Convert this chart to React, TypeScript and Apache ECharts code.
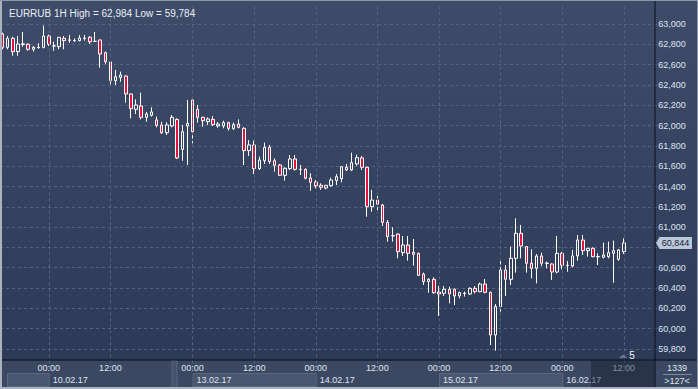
import React, { useEffect, useRef } from 'react';
import * as echarts from 'echarts';

// ---- data ----
const titleText = 'EURRUB 1H High = 62,984 Low = 59,784';

const sessions = [
  { date: '09.02.17', from: 15, to: 23 },
  { date: '10.02.17', from: 0, to: 23 },
  { date: '11.02.17', from: 0, to: 0 },
  { date: '12.02.17', from: 21, to: 23 },
  { date: '13.02.17', from: 0, to: 23 },
  { date: '14.02.17', from: 0, to: 23 },
  { date: '15.02.17', from: 0, to: 23 },
  { date: '16.02.17', from: 0, to: 18 },
];

const timeTickIdx = [9, 21, 37, 49, 61, 73, 85, 97, 109, 121];
const dateTickIdx = [9, 37, 61, 85, 109];

const opens = [62902,62770,62859,62728,62798,62800,62751,62768,62770,62882,
  62785,62777,62859,62840,62838,62836,62858,62869,62828,62843,
  62718,62626,62442,62472,62488,62311,62160,62193,62081,62101,
  62055,62006,61930,61996,62061,61766,61996,62252,62160,62081,
  62038,62061,61996,61996,62029,61970,62015,61973,61753,61809,
  61576,61654,61786,61654,61612,61510,61576,61671,61569,61569,
  61484,61444,61412,61385,61408,61458,61477,61589,61563,61622,
  61681,61589,61202,61267,61218,61047,60913,60932,60749,60824,
  60752,60742,60538,60463,60486,60361,60348,60388,60388,60322,
  60346,60342,60397,60365,60440,60358,59938,60217,60578,60486,
  60693,60939,60808,60644,60594,60716,60646,60637,60558,60742,
  60622,60617,60716,60873,60768,60791,60711,60703,60709,60742,
  60683,60758];

const highs = [62915,62882,62875,62882,62921,62810,62783,62810,62984,62895,
  62826,62872,62882,62892,62859,62892,62892,62882,62921,62846,
  62728,62630,62547,62531,62492,62315,62258,62324,62134,62180,
  62088,62038,62032,62104,62071,62006,62252,62255,62203,62088,
  62081,62094,62035,62048,62038,62029,62061,61983,61858,61851,
  61694,61832,61809,61677,61622,61589,61710,61710,61612,61579,
  61530,61464,61431,61415,61487,61523,61602,61622,61733,61714,
  61700,61595,61366,61307,61228,61070,60998,60939,60913,60913,
  60883,60749,60552,60496,60506,60420,60420,60414,60397,60365,
  60365,60407,60420,60453,60489,60365,60243,60683,60627,60808,
  61087,61021,60814,60781,60735,60749,60660,60644,60913,60758,
  60666,60775,60923,60923,60798,60801,60742,60847,60857,60867,
  60785,60890];

const lows = [62751,62751,62688,62688,62777,62737,62728,62757,62760,62783,
  62737,62751,62751,62816,62823,62829,62836,62803,62823,62570,
  62603,62396,62399,62432,62226,62071,62114,62061,62038,62088,
  61983,61917,61907,61983,61671,61654,61612,61825,62029,61989,
  62006,61996,61979,61973,61950,61956,61973,61612,61700,61523,
  61563,61622,61622,61546,61503,61458,61563,61556,61513,61471,
  61359,61382,61366,61372,61398,61415,61441,61553,61553,61605,
  61563,61103,61152,61169,61011,60857,60857,60693,60716,60670,
  60621,60519,60430,60355,60342,60125,60322,60250,60233,60299,
  60316,60332,60348,60358,60348,59839,59784,60168,60322,60430,
  60552,60693,60552,60496,60447,60617,60594,60480,60545,60584,
  60561,60604,60670,60726,60709,60703,60627,60693,60693,60453,
  60670,60735];

const closes = [62770,62859,62728,62803,62805,62751,62770,62772,62882,62800,
  62783,62869,62836,62843,62836,62862,62861,62826,62830,62705,
  62629,62442,62481,62498,62311,62166,62203,62081,62114,62134,
  62002,61930,62006,62081,61681,61940,62022,61940,62081,62048,
  62065,62009,62015,62029,61973,62009,61983,61753,61809,61576,
  61661,61786,61645,61609,61510,61579,61671,61569,61566,61481,
  61441,61408,61392,61412,61464,61497,61595,61563,61635,61684,
  61589,61202,61267,61225,61047,60906,60916,60758,60824,60742,
  60732,60525,60463,60486,60355,60342,60388,60342,60322,60355,
  60350,60397,60365,60440,60358,59938,60217,60578,60486,60693,
  60939,60814,60644,60594,60716,60644,60642,60558,60742,60624,
  60624,60716,60873,60768,60791,60709,60707,60726,60748,60768,
  60775,60844];

const barCountLabel = '1339';
const visibleBarsLabel = '>127<';
const scaleLabel = '5';

// ---- helpers ----
const categories: string[] = [];
sessions.forEach((s) => {
  for (let h = s.from; h <= s.to; h++) {
    categories.push(s.date + ' ' + (h < 10 ? '0' + h : '' + h) + ':00');
  }
});

const fmt = (v: number) => String(Math.round(v)).replace(/\B(?=(\d{3})+(?!\d))/g, ',');
const lastClose = closes[closes.length - 1];

const FONT = '"Liberation Sans", Arial, sans-serif';
const GRID = '#56637f';
const LABEL = '#dde4ef';

export default function App() {
  const ref = useRef<HTMLDivElement>(null);

  useEffect(() => {
    document.body.style.margin = '0';
    const chart = echarts.init(ref.current as HTMLDivElement, null, { renderer: 'svg' });
    const candles = opens.map((o, i) => [o, closes[i], lows[i], highs[i]]);

    chart.setOption({
      animation: false,
      textStyle: { fontFamily: FONT },
      title: {
        text: titleText,
        left: 4,
        top: 3,
        textStyle: { color: '#e8edf4', fontSize: 10, fontWeight: 'normal', fontFamily: FONT },
      },
      grid: { left: 0, top: 3.7, width: 657.2, height: 365.6 },
      xAxis: [
        {
          type: 'category',
          data: categories,
          boundaryGap: true,
          position: 'bottom',
          offset: -9,
          z: 5,
          axisLine: { show: false },
          axisTick: { show: false },
          splitLine: { show: false },
          axisLabel: {
            interval: (i: number) => timeTickIdx.includes(i),
            formatter: (v: string) => v.split(' ')[1],
            margin: 3,
            color: LABEL,
            fontSize: 9,
            fontFamily: FONT,
          },
        },
        {
          type: 'category',
          data: categories,
          gridIndex: 0,
          boundaryGap: true,
          position: 'bottom',
          offset: -9,
          z: 5,
          axisLine: { show: false },
          axisTick: { show: false },
          splitLine: { show: false },
          axisLabel: {
            interval: (i: number) => dateTickIdx.includes(i),
            formatter: (v: string) => v.split(' ')[0],
            align: 'left',
            padding: [0, 0, 0, 4],
            margin: 15,
            color: LABEL,
            fontSize: 9,
            fontFamily: FONT,
          },
        },
      ],
      yAxis: {
        type: 'value',
        position: 'right',
        min: 59600,
        max: 63200,
        interval: 200,
        z: 0,
        axisLine: { show: false },
        axisTick: { show: false },
        splitLine: {
          show: true,
          showMinLine: false,
          showMaxLine: false,
          lineStyle: { color: GRID, type: [3, 3], width: 1 },
        },
        axisLabel: {
          margin: 1,
          color: LABEL,
          fontSize: 9,
          fontFamily: FONT,
          formatter: (v: number) =>
            v <= 59600 || v >= 63200 || Math.abs(v - lastClose) < 100 ? '' : fmt(v),
        },
      },
      series: [
        {
          type: 'candlestick',
          xAxisIndex: 0,
          yAxisIndex: 0,
          data: candles,
          barWidth: 3,
          z: 2,
          itemStyle: {
            color: 'rgba(0,0,0,0)',
            color0: '#e3123a',
            borderColor: '#ffffff',
            borderColor0: '#ffffff',
            borderWidth: 1,
          },
          markLine: {
            silent: true,
            symbol: ['none', 'none'],
            label: { show: false },
            lineStyle: { color: GRID, type: [3, 3], width: 1 },
            data: timeTickIdx.map((i) => ({ xAxis: categories[i] })),
          },
        },
      ],
    });

    const cx = (i: number) => chart.convertToPixel({ xAxisIndex: 0 }, categories[i]) as number;
    const cy = (v: number) => chart.convertToPixel({ yAxisIndex: 0 }, v) as number;

    const py = cy(lastClose);
    const stripTop = 360.5;
    const stripH = 28.5;
    const rightX = 654.5;

    const boxes: any[] = [];
    const dayBoxes = [[-1, 9], [37, 61], [85, 109]];
    dayBoxes.forEach(([a, b]) => {
      const x0 = a < 0 ? 7 : cx(a);
      const x1 = cx(b);
      boxes.push({
        type: 'rect',
        z: 4,
        silent: true,
        shape: { x: x0 + 0.5, y: 373.5, width: x1 - x0, height: 13 },
        style: { fill: '#4a5670', stroke: '#5b6781', lineWidth: 1 },
      });
    });
    const sepX = (cx(33) + cx(34)) / 2;
    boxes.push({
      type: 'rect',
      z: 4,
      silent: true,
      shape: { x: sepX - 2.5, y: stripTop, width: 5, height: stripH },
      style: { fill: '#46526b', stroke: '#5b6781', lineWidth: 1 },
    });
    const ovX = cx(115) - 2;

    chart.setOption({
      graphic: {
        elements: [
          {
            type: 'rect',
            z: -10,
            silent: true,
            shape: { x: 0, y: 0, width: 698, height: 389 },
            style: {
              fill: new echarts.graphic.LinearGradient(0, 0, 0, 1, [
                { offset: 0, color: '#3f4c69' },
                { offset: 1, color: '#2b3856' },
              ]),
            },
          },
          {
            type: 'rect',
            z: 3,
            silent: true,
            shape: { x: 0, y: stripTop, width: 698, height: stripH },
            style: { fill: '#3c4862' },
          },
          ...boxes,
          {
            type: 'rect',
            z: 6,
            silent: true,
            shape: { x: ovX, y: stripTop, width: rightX - ovX, height: stripH },
            style: { fill: 'rgba(18,26,46,0.45)' },
          },
          {
            type: 'rect',
            z: 7,
            silent: true,
            shape: { x: 0, y: 359.5, width: 698, height: 1 },
            style: { fill: '#0b0f1a' },
          },
          {
            type: 'rect',
            z: 7,
            silent: true,
            shape: { x: rightX, y: 0, width: 1, height: 389 },
            style: { fill: '#0b0f1a' },
          },
          {
            type: 'polygon',
            z: 8,
            silent: true,
            shape: {
              points: [
                [656, py],
                [659.5, py - 6],
                [692, py - 6],
                [692, py + 6],
                [659.5, py + 6],
              ],
            },
            style: { fill: '#bcc7d9' },
          },
          {
            type: 'text',
            z: 9,
            silent: true,
            x: 675.5,
            y: py,
            style: {
              text: fmt(lastClose),
              fill: '#16233c',
              font: '9px ' + FONT,
              align: 'center',
              verticalAlign: 'middle',
            },
          },
          {
            type: 'polygon',
            z: 8,
            silent: true,
            shape: { points: [[619, 358], [623, 354.5], [627, 358]] },
            style: { fill: '#69748e' },
          },
          {
            type: 'text',
            z: 8,
            silent: true,
            x: 632,
            y: 355,
            style: {
              text: scaleLabel,
              fill: '#f0f4fa',
              font: '10px ' + FONT,
              align: 'center',
              verticalAlign: 'middle',
            },
          },
          {
            type: 'text',
            z: 8,
            silent: true,
            x: 677,
            y: 367.5,
            style: {
              text: barCountLabel,
              fill: LABEL,
              font: '9px ' + FONT,
              align: 'center',
              verticalAlign: 'middle',
            },
          },
          {
            type: 'rect',
            z: 8,
            silent: true,
            shape: { x: 663, y: 374, width: 29, height: 1 },
            style: { fill: '#7d8aa2' },
          },
          {
            type: 'text',
            z: 8,
            silent: true,
            x: 677,
            y: 381,
            style: {
              text: visibleBarsLabel,
              fill: LABEL,
              font: '9px ' + FONT,
              align: 'center',
              verticalAlign: 'middle',
            },
          },
          {
            type: 'rect', z: 10, silent: true,
            shape: { x: 0, y: 0, width: 2, height: 389 },
            style: { fill: '#aab2c0' },
          },
          {
            type: 'rect', z: 10, silent: true,
            shape: { x: 0, y: 387, width: 698, height: 2 },
            style: { fill: '#aab2c0' },
          },
          {
            type: 'rect', z: 10, silent: true,
            shape: { x: 0, y: 0, width: 698, height: 1 },
            style: { fill: '#8c95a6' },
          },
          {
            type: 'rect', z: 10, silent: true,
            shape: { x: 697, y: 0, width: 1, height: 389 },
            style: { fill: '#8c95a6' },
          },
        ],
      },
    });

    return () => chart.dispose();
  }, []);

  return (
    <div
      ref={ref}
      style={{ position: 'absolute', left: 0, top: 0, width: 698, height: 389 }}
    />
  );
}
